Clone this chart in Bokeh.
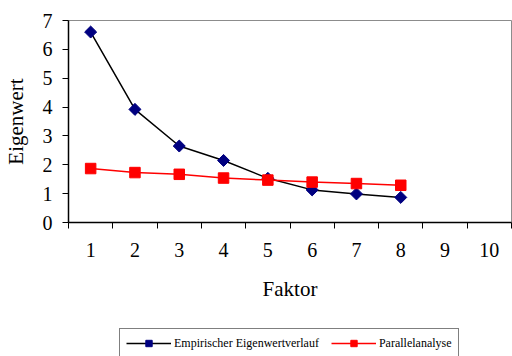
from bokeh.plotting import figure
from bokeh.layouts import column
from bokeh.models import FixedTicker, Legend, LegendItem, Range1d
from bokeh.embed import file_html
from bokeh.resources import INLINE
import math

# Scree plot: empirical eigenvalues vs. parallel analysis
factors = [1, 2, 3, 4, 5, 6, 7, 8]
empirical = [6.60, 3.92, 2.65, 2.15, 1.53, 1.13, 0.99, 0.87]
parallel = [1.87, 1.73, 1.67, 1.54, 1.47, 1.40, 1.35, 1.29]
x_ticks = [1, 2, 3, 4, 5, 6, 7, 8, 9, 10]
y_ticks = [0, 1, 2, 3, 4, 5, 6, 7]
series_names = ["Empirischer Eigenwertverlauf", "Parallelanalyse"]

SERIF = "Liberation Serif"
EMP_LINE, EMP_MARK = "black", "#000080"
PAR_COLOR = "#ff0000"

p = figure(width=512, height=318, output_backend="svg", toolbar_location=None,
           x_range=Range1d(0.5, 10.5), y_range=Range1d(0, 7),
           min_border_left=67, min_border_right=1, min_border_top=20,
           min_border_bottom=96)
p.background_fill_color = "white"
p.border_fill_color = "white"
p.outline_line_color = "#8c8c8c"
p.xgrid.grid_line_color = None
p.ygrid.grid_line_color = None

# x axis: ticks between categories, labels centred on each factor
xa = p.xaxis[0]
xa.ticker = FixedTicker(ticks=x_ticks, minor_ticks=[t + 0.5 for t in [0] + x_ticks])
xa.major_tick_out = 0
xa.major_tick_in = 0
xa.minor_tick_out = 6
xa.minor_tick_in = 0
xa.minor_tick_line_color = "black"
xa.axis_line_color = "black"
xa.axis_line_width = 1.5
xa.major_label_text_font = SERIF
xa.major_label_text_font_size = "20px"
xa.major_label_text_color = "black"
xa.major_label_standoff = 14
xa.axis_label = "Faktor"
xa.axis_label_text_font = SERIF
xa.axis_label_text_font_size = "21px"
xa.axis_label_text_font_style = "normal"
xa.axis_label_text_color = "black"
xa.axis_label_standoff = 17

ya = p.yaxis[0]
ya.ticker = FixedTicker(ticks=y_ticks, minor_ticks=[])
ya.major_tick_out = 6
ya.major_tick_in = 0
ya.major_tick_line_color = "black"
ya.axis_line_color = "black"
ya.axis_line_width = 1.5
ya.major_label_text_font = SERIF
ya.major_label_text_font_size = "20px"
ya.major_label_text_color = "black"
ya.major_label_standoff = 10
ya.axis_label = "Eigenwert"
ya.axis_label_text_font = SERIF
ya.axis_label_text_font_size = "21px"
ya.axis_label_text_font_style = "normal"
ya.axis_label_text_color = "black"
ya.axis_label_standoff = 12

p.line(factors, empirical, line_color=EMP_LINE, line_width=1.5)
p.scatter(factors, empirical, marker="square", angle=math.pi / 4,
          size=8.5, fill_color=EMP_MARK, line_color=EMP_MARK)
p.line(factors, parallel, line_color=PAR_COLOR, line_width=1.5)
p.scatter(factors, parallel, marker="square", size=10.5,
          fill_color=PAR_COLOR, line_color=PAR_COLOR)

# legend strip underneath the chart; its renderers hold off-screen
# sample points so the legend can draw their glyph styles
lg = figure(width=512, height=38, output_backend="svg", toolbar_location=None,
            x_range=Range1d(0, 1), y_range=Range1d(0, 1),
            x_axis_location=None, y_axis_location=None, min_border=0)
lg.outline_line_color = None
lg.xgrid.grid_line_color = None
lg.ygrid.grid_line_color = None
off = [-5, -6]
e_l = lg.line(off, off, line_color=EMP_LINE, line_width=1.5)
e_m = lg.scatter(off, off, marker="square", angle=math.pi / 4, size=7,
                 fill_color=EMP_MARK, line_color=EMP_MARK)
p_l = lg.line(off, off, line_color=PAR_COLOR, line_width=1.5)
p_m = lg.scatter(off, off, marker="square", size=7.5,
                 fill_color=PAR_COLOR, line_color=PAR_COLOR)

legend = Legend(items=[
    LegendItem(label=series_names[0], renderers=[e_l, e_m]),
    LegendItem(label=series_names[1], renderers=[p_l, p_m]),
], orientation="horizontal", location=(51, -2))
legend.label_text_font = SERIF
legend.label_text_font_size = "12px"
legend.label_text_color = "black"
legend.glyph_width = 45
legend.glyph_height = 16
legend.label_height = 16
legend.label_standoff = 3
legend.spacing = 12
legend.padding = 6
legend.margin = 0
legend.border_line_color = "black"
legend.border_line_width = 1
legend.background_fill_alpha = 1
lg.add_layout(legend, "center")

layout = column(p, lg, spacing=0)
open("out.html", "w").write(file_html(layout, INLINE))
